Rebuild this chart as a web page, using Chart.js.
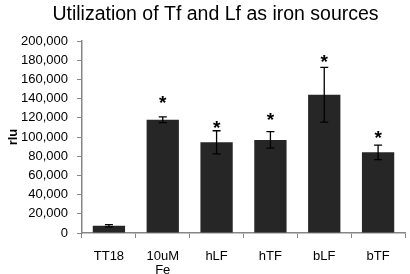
<!DOCTYPE html>
<html>
<head>
<meta charset="utf-8">
<script src="https://cdn.jsdelivr.net/npm/chart.js@4/dist/chart.umd.min.js"></script>
<style>
  html, body { margin: 0; padding: 0; background: #fff; }
  #wrap { width: 410px; height: 274px; }
</style>
</head>
<body>
<div id="wrap"><canvas id="ironChart" width="410" height="274"></canvas></div>
<script>
// Werte
const categories = ['TT18', ['10uM', 'Fe'], 'hLF', 'hTF', 'bLF', 'bTF'];
const meanRlu = [7500, 118000, 94500, 97000, 144000, 84000];
const errRlu = [1200, 3000, 12000, 8500, 28500, 7500];
// Höhe der Sternchen (Signifikanz), in rlu
const starLevel = [null, 140500, 114500, 123000, 183000, 104000];
const yMax = 200000;
const yStep = 20000;
const chartTitle = 'Utilization of Tf and Lf as iron sources';

const FONT = '"Liberation Sans", Arial, sans-serif';
const axisGray = '#868686';
const titleInset = 26; // Titel ist etwas nach rechts versetzt

// Titel selbst zeichnen (Chart.js zentriert nur über die volle Breite)
const topTitle = {
  id: 'topTitle',
  afterDraw(chart) {
    const ctx = chart.ctx;
    ctx.save();
    ctx.fillStyle = '#000';
    ctx.font = '19.5px ' + FONT;
    ctx.textAlign = 'center';
    ctx.textBaseline = 'alphabetic';
    ctx.fillText(chartTitle, (titleInset + chart.chartArea.right) / 2, 20);
    ctx.restore();
  }
};

// Fehlerbalken + Sternchen
const errorBars = {
  id: 'errorBars',
  afterDatasetsDraw(chart) {
    const ctx = chart.ctx;
    const y = chart.scales.y;
    const bars = chart.getDatasetMeta(0).data;
    ctx.save();
    ctx.strokeStyle = '#000';
    ctx.lineWidth = 1.3;
    bars.forEach((bar, i) => {
      const top = y.getPixelForValue(meanRlu[i] + errRlu[i]);
      const bot = y.getPixelForValue(meanRlu[i] - errRlu[i]);
      ctx.beginPath();
      ctx.moveTo(bar.x, top); ctx.lineTo(bar.x, bot);
      ctx.moveTo(bar.x - 4, top); ctx.lineTo(bar.x + 4, top);
      ctx.moveTo(bar.x - 4, bot); ctx.lineTo(bar.x + 4, bot);
      ctx.stroke();
    });
    ctx.fillStyle = '#000';
    ctx.font = 'bold 19px ' + FONT;
    ctx.textAlign = 'center';
    ctx.textBaseline = 'alphabetic';
    starLevel.forEach((v, i) => {
      if (v == null) return;
      ctx.fillText('*', bars[i].x, y.getPixelForValue(v) + 11);
    });
    ctx.restore();
  }
};

new Chart(document.getElementById('ironChart'), {
  type: 'bar',
  data: {
    labels: categories,
    datasets: [{
      label: 'rlu',
      data: meanRlu,
      backgroundColor: '#262626',
      borderWidth: 0,
      barPercentage: 0.6,
      categoryPercentage: 1
    }]
  },
  options: {
    responsive: false,
    animation: false,
    layout: { padding: { left: 0, right: 5, top: 41, bottom: 0 } },
    plugins: {
      legend: { display: false },
      tooltip: { enabled: false },
      title: { display: false }
    },
    scales: {
      x: {
        afterFit(scale) { scale.height = 41; },
        border: { color: axisGray, width: 1.5 },
        grid: { drawOnChartArea: false, drawTicks: true, tickLength: 5, color: axisGray, offset: true },
        ticks: { color: '#000', padding: 11, maxRotation: 0, font: { family: FONT, size: 13, lineHeight: 1.1 } }
      },
      y: {
        min: 0,
        max: yMax,
        afterFit(scale) { scale.width = 82; },
        border: { color: axisGray, width: 1.5 },
        grid: { drawOnChartArea: false, drawTicks: true, tickLength: 5, color: axisGray },
        ticks: {
          stepSize: yStep,
          color: '#000',
          padding: 9,
          font: { family: FONT, size: 13 },
          callback: v => v.toLocaleString('en-US')
        },
        title: {
          display: true,
          text: 'rlu',
          color: '#000',
          font: { family: FONT, size: 13, weight: 'bold' },
          padding: { top: 6, bottom: 0 }
        }
      }
    }
  },
  plugins: [errorBars, topTitle]
});
</script>
</body>
</html>
